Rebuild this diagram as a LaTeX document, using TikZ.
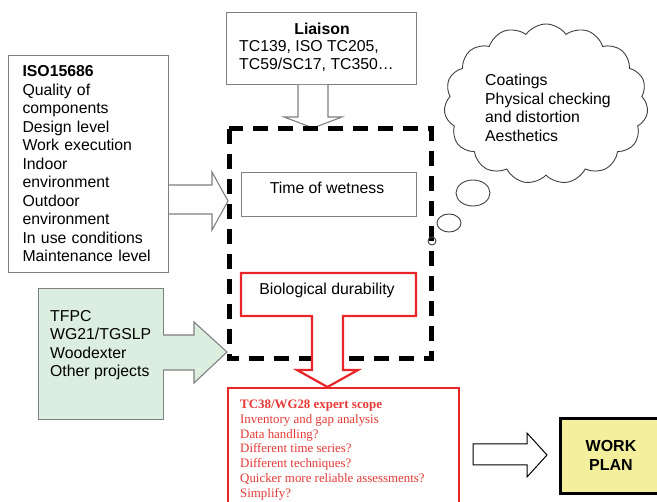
\documentclass[tikz,border=0pt]{standalone}
\usepackage{fontspec}
\setmainfont{Liberation Sans}
\newfontfamily\serifred{Liberation Serif}
\usetikzlibrary{shapes.symbols}
\definecolor{boxgray}{HTML}{7F7F7F}
\definecolor{redline}{HTML}{E8262A}
\definecolor{redtext}{HTML}{E53935}
\definecolor{greenfill}{HTML}{DCEEDF}
\definecolor{yellowfill}{HTML}{F3EF9C}
\begin{document}
\begin{tikzpicture}[x=1pt,y=-1pt,
  txt/.style={font=\fontsize{15.8}{18.5}\selectfont, inner sep=3pt},
  graybox/.style={draw=boxgray, line width=1.1pt, fill=white},
  openarrow/.style={draw=boxgray, line width=1.1pt, fill=white, line join=miter},
  dashbox/.style={draw=black, line width=5pt, dash pattern=on 15pt off 10pt},
  redshape/.style={draw=redline, line width=2.2pt, fill=white, line join=miter},
]
\useasboundingbox (0,0) rectangle (657,502);

% ISO box
\node[graybox, txt, anchor=north west, minimum width=160, minimum height=217,
      text width=132, inner xsep=14, align=left] (iso) at (8,55)
  {\textbf{ISO15686}\\Quality of\\components\\Design level\\Work execution\\Indoor\\environment\\Outdoor\\environment\\In use conditions\\Maintenance level};

% Liaison box
\node[graybox, anchor=north west, minimum width=190, minimum height=72] (liaison) at (226,12) {};
\node[txt] (liaisonT) at (322,29) {\textbf{Liaison}};
\node[txt, anchor=west, align=left] (liaisonL) at (236,56) {TC139, ISO TC205,\\TC59/SC17, TC350…};

% arrow from liaison
\draw[openarrow] (298,85) -- (298,117) -- (284,117) -- (313,128) -- (342,117) -- (328,117) -- (328,85);

% arrow from ISO
\draw[openarrow] (169,185) -- (212,185) -- (212,172) -- (228,201) -- (212,230) -- (212,214) -- (169,214);

% dashed box
\draw[dashbox] (229,129) rectangle (431,359);

% time of wetness
\node[graybox, anchor=north west, minimum width=175, minimum height=44] (tow) at (241,172) {};
\node[txt] (towT) at (327,188) {Time of wetness};

% biological durability red shape
\draw[redshape] (241,273) -- (416,273) -- (416,316) -- (343,316) -- (343,370) -- (358,370)
  -- (327.5,387) -- (297,370) -- (312,370) -- (312,316) -- (241,316) -- cycle;
\node[txt] (bio) at (327,290) {Biological durability};

% TFPC box and arrow
\node[draw=boxgray, line width=1.1pt, fill=greenfill, anchor=north west, minimum width=125, minimum height=131] (tfpc) at (38,288) {};
\fill[greenfill] (162,335) -- (194,335) -- (194,322) -- (227,352) -- (194,383) -- (194,370) -- (162,370) -- cycle;
\draw[boxgray, line width=1.1pt, line join=miter] (163,335) -- (194,335) -- (194,322) -- (227,352) -- (194,383) -- (194,370) -- (163,370);
\node[txt, anchor=west, align=left] (tfpcT) at (47,345) {TFPC\\WG21/TGSLP\\Woodexter\\Other projects};

% red scope box
\draw[draw=redline, line width=2.2pt, line join=miter] (228,506) -- (228,388) -- (459,388) -- (459,506);
\node[anchor=west, align=left, inner sep=3pt, text=redtext,
      font=\serifred\fontsize{12.9}{14.8}\selectfont] (scope) at (237,450)
  {\textbf{TC38/WG28 expert scope}\\Inventory and gap analysis\\Data handling?\\Different time series?\\Different techniques?\\Quicker more reliable assessments?\\Simplify?};

% right arrow
\draw[draw=black, line width=1pt, fill=white, line join=miter] (473,444) -- (527,444) -- (527,433) -- (547,455) -- (527,477) -- (527,465) -- (473,465) -- cycle;

% work plan
\node[draw=black, line width=3pt, fill=yellowfill, anchor=north west, minimum width=98, minimum height=75] (work) at (559,417) {};
\node[font=\fontsize{16}{19}\selectfont\bfseries, align=center] (workT) at (611,455) {WORK\\PLAN};

% cloud
\node[cloud, draw=black!75, line width=0.9pt, cloud puffs=15, cloud puff arc=110, aspect=1.3,
      minimum width=204, minimum height=160, fill=white] (cloud) at (546,104) {};
\node[txt, anchor=west, align=left] (cloudT) at (482,108) {Coatings\\Physical checking\\and distortion\\Aesthetics};
\draw[black!75, line width=0.9pt] (473,193) ellipse [x radius=17, y radius=13];
\draw[black!75, line width=0.9pt] (449,223) ellipse [x radius=12, y radius=9];
\draw[black!75, line width=0.9pt] (432,241) circle [radius=4];
\end{tikzpicture}
\end{document}
